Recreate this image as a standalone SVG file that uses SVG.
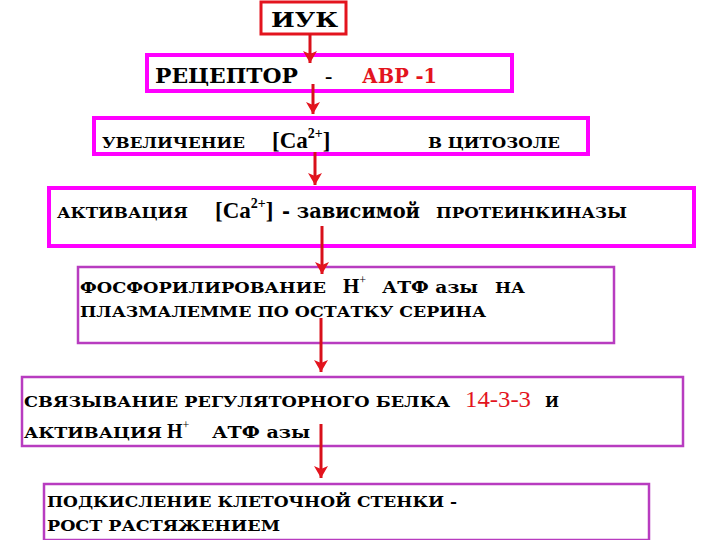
<svg xmlns="http://www.w3.org/2000/svg" width="720" height="540" viewBox="0 0 720 540">
<defs>
<marker id="ah" markerUnits="userSpaceOnUse" markerWidth="14" markerHeight="14" viewBox="0 0 14 14" refX="13" refY="7" orient="auto">
<path d="M1,0 L13,7 L1,14 L4,7 Z" fill="#e3141e"/>
</marker>
</defs>
<rect width="720" height="540" fill="#fff"/>

<g id="n1" font-weight="bold" fill="#000">
<rect x="261" y="2" width="85" height="32" fill="#fff" stroke="#e3141e" stroke-width="3"/>
<text font-family="DejaVu Serif, serif" x="271" y="27" font-size="20" textLength="67" lengthAdjust="spacingAndGlyphs">ИУК</text>
</g>

<g id="n2" font-weight="bold" fill="#000">
<rect x="147" y="55" width="365" height="36" fill="#fff" stroke="#ff00ff" stroke-width="4"/>
<text font-family="DejaVu Serif, serif" x="155" y="83" font-size="20" textLength="143" lengthAdjust="spacingAndGlyphs">РЕЦЕПТОР</text>
<text font-family="Liberation Serif, serif" x="325" y="83" font-size="22">-</text>
<text font-family="DejaVu Serif, serif" fill="#e3141e" x="362" y="83" font-size="20" textLength="75" lengthAdjust="spacingAndGlyphs">АВР -1</text>
</g>

<g id="n3" font-weight="bold" fill="#000">
<rect x="94" y="118" width="494" height="36" fill="#fff" stroke="#ff00ff" stroke-width="4"/>
<text font-family="DejaVu Serif, serif" x="102" y="148" font-size="14" textLength="143" lengthAdjust="spacingAndGlyphs">УВЕЛИЧЕНИЕ</text>
<text font-family="Liberation Serif, serif" x="272" y="148" font-size="23">[Ca<tspan font-size="14" dy="-10">2+</tspan><tspan dy="10">]</tspan></text>
<text font-family="DejaVu Serif, serif" x="428" y="148" font-size="14" textLength="132" lengthAdjust="spacingAndGlyphs">В ЦИТОЗОЛЕ</text>
</g>

<g id="n4" font-weight="bold" fill="#000">
<rect x="49" y="188" width="645" height="58" fill="#fff" stroke="#ff00ff" stroke-width="4"/>
<text font-family="DejaVu Serif, serif" x="57" y="218" font-size="14.5" textLength="131" lengthAdjust="spacingAndGlyphs">АКТИВАЦИЯ</text>
<text font-family="Liberation Serif, serif" x="215" y="218" font-size="23">[Ca<tspan font-size="14" dy="-10">2+</tspan><tspan dy="10">]</tspan></text>
<text font-family="DejaVu Serif, serif" x="282" y="218" font-size="20" textLength="138" lengthAdjust="spacingAndGlyphs">- зависимой</text>
<text font-family="DejaVu Serif, serif" x="436" y="218" font-size="14.5" textLength="191" lengthAdjust="spacingAndGlyphs">ПРОТЕИНКИНАЗЫ</text>
</g>

<g id="n5" font-weight="bold" fill="#000">
<rect x="78" y="267" width="536" height="76" fill="#fff" stroke="#b83cc0" stroke-width="2.5"/>
<text font-family="DejaVu Serif, serif" x="80" y="293" font-size="15" textLength="246" lengthAdjust="spacingAndGlyphs">ФОСФОРИЛИРОВАНИЕ</text>
<text font-family="Liberation Serif, serif" x="343" y="293" font-size="21">H<tspan font-size="12" dy="-9" font-weight="normal">+</tspan></text>
<text font-family="DejaVu Serif, serif" x="382" y="293" font-size="17" textLength="96" lengthAdjust="spacingAndGlyphs">АТФ азы</text>
<text font-family="DejaVu Serif, serif" x="495" y="293" font-size="15" textLength="30" lengthAdjust="spacingAndGlyphs">НА</text>
<text font-family="DejaVu Serif, serif" x="80" y="317" font-size="15" textLength="406" lengthAdjust="spacingAndGlyphs">ПЛАЗМАЛЕММЕ ПО ОСТАТКУ СЕРИНА</text>
</g>

<g id="n6" font-weight="bold" fill="#000">
<rect x="22" y="377" width="661" height="69" fill="#fff" stroke="#b83cc0" stroke-width="2.5"/>
<text font-family="DejaVu Serif, serif" x="24" y="407" font-size="15" textLength="426" lengthAdjust="spacingAndGlyphs">СВЯЗЫВАНИЕ  РЕГУЛЯТОРНОГО БЕЛКА</text>
<text font-family="Liberation Serif, serif" font-weight="normal" fill="#e3141e" x="465" y="407" font-size="24" textLength="66" lengthAdjust="spacingAndGlyphs">14-3-3</text>
<text font-family="DejaVu Serif, serif" x="545" y="407" font-size="15" textLength="14" lengthAdjust="spacingAndGlyphs">И</text>
<text font-family="DejaVu Serif, serif" x="24" y="438" font-size="15" textLength="138" lengthAdjust="spacingAndGlyphs">АКТИВАЦИЯ</text>
<text font-family="Liberation Serif, serif" x="167" y="438" font-size="20">H<tspan font-size="12" dy="-9" font-weight="normal">+</tspan></text>
<text font-family="DejaVu Serif, serif" x="212" y="438" font-size="17" textLength="98" lengthAdjust="spacingAndGlyphs">АТФ азы</text>
</g>

<g id="n7" font-weight="bold" fill="#000">
<rect x="44" y="484" width="605" height="56" fill="#fff" stroke="#b83cc0" stroke-width="2.5"/>
<text font-family="DejaVu Serif, serif" x="47" y="507" font-size="15" textLength="410" lengthAdjust="spacingAndGlyphs">ПОДКИСЛЕНИЕ КЛЕТОЧНОЙ СТЕНКИ  -</text>
<text font-family="DejaVu Serif, serif" x="47" y="531" font-size="15" textLength="233" lengthAdjust="spacingAndGlyphs">РОСТ  РАСТЯЖЕНИЕМ</text>
</g>

<g id="connectors" stroke="#d8101a" stroke-width="3" fill="none" marker-end="url(#ah)">
<line x1="310" y1="34" x2="310" y2="63"/>
<line x1="313" y1="84" x2="313" y2="114"/>
<line x1="315" y1="152" x2="315" y2="185"/>
<line x1="322" y1="226" x2="322" y2="274"/>
<line x1="321" y1="318" x2="321" y2="372"/>
<line x1="321" y1="424" x2="321" y2="478"/>
</g>
</svg>
